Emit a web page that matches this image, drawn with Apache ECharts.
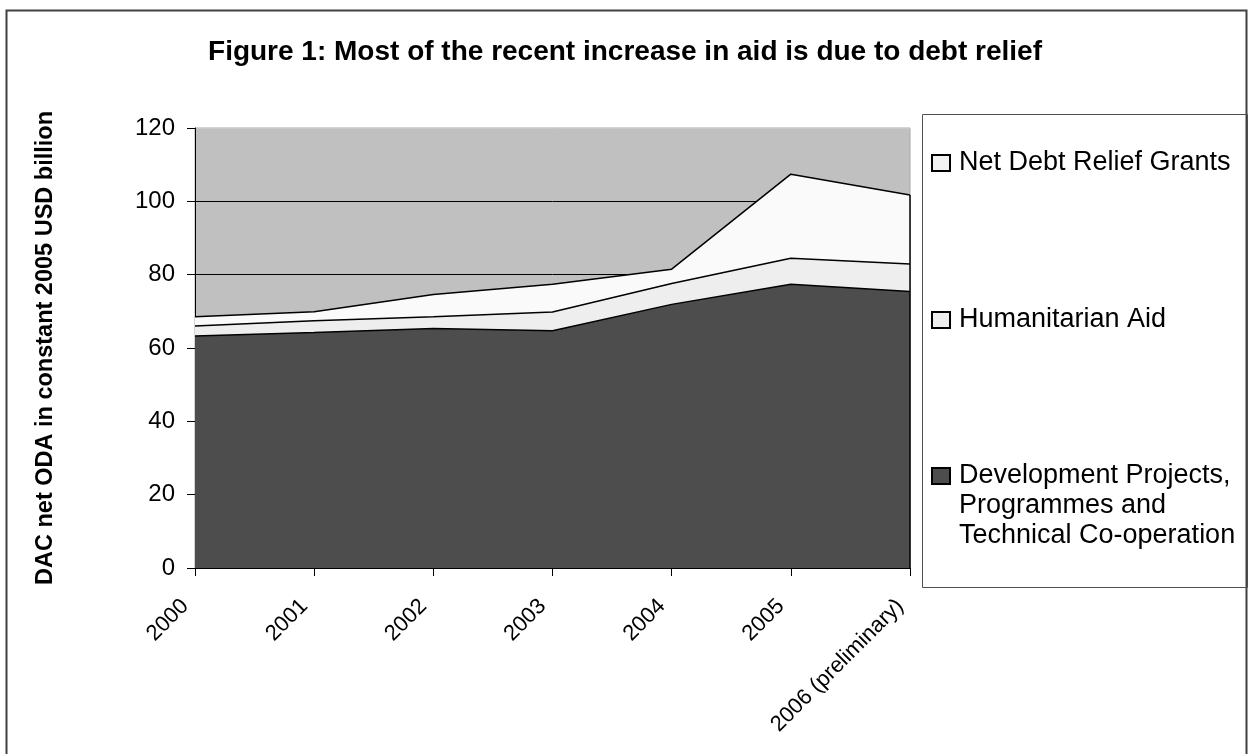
<!DOCTYPE html>
<html>
<head>
<meta charset="utf-8">
<script src="https://cdn.jsdelivr.net/npm/echarts@6/dist/echarts.min.js"></script>
<style>
html,body{margin:0;padding:0;background:#fff;}
#chart{width:1250px;height:754px;}
</style>
</head>
<body>
<div id="chart"></div>
<script>
const categories = ['2000','2001','2002','2003','2004','2005','2006 (preliminary)'];
const devProjects = [63.3, 64.2, 65.3, 64.7, 71.9, 77.4, 75.4];
const humanitarian = [2.7, 3.2, 3.2, 5.1, 5.7, 7.1, 7.5];
const debtRelief = [2.5, 2.5, 6.1, 7.6, 3.9, 22.9, 18.8];
const yTicks = [0, 20, 40, 60, 80, 100, 120];

const FONT = "'Liberation Sans', Arial, sans-serif";
const chart = echarts.init(document.getElementById('chart'));

const lastIdx = categories.length - 1;
const lastTotal = devProjects[lastIdx] + humanitarian[lastIdx] + debtRelief[lastIdx];

const legendText = {color:'#000', fontFamily: FONT, fontSize: 27, lineHeight: 30, padding:[0,0,0,4]};
function legendFor(name, top, fmt){
  return {
    data:[name], left: 931, top: top, orient:'vertical', padding:0,
    itemWidth:18, itemHeight:16, itemGap:0, icon:'rect',
    selectedMode:false,
    textStyle: legendText,
    formatter: fmt
  };
}

chart.setOption({
  backgroundColor:'#fff',
  animation:false,
  title:{
    text:'Figure 1: Most of the recent increase in aid is due to debt relief',
    left: 'center', top: 38, padding:0,
    textStyle:{fontFamily:FONT, fontSize:28, fontWeight:'bold', color:'#000'}
  },
  graphic:[
    {type:'rect', shape:{x:6.5, y:10.5, width:1240, height:760}, style:{fill:'none', stroke:'#404040', lineWidth:2}, silent:true},
    {type:'rect', shape:{x:922.5, y:114.5, width:325, height:473}, style:{fill:'none', stroke:'#505050', lineWidth:1}, silent:true}
  ],
  legend:[
    legendFor('Net Debt Relief Grants', 148, function(n){return n;}),
    legendFor('Humanitarian Aid', 305, function(n){return n;}),
    legendFor('Development Projects, Programmes and Technical Co-operation', 401,
      function(){return '\n\nDevelopment Projects,\nProgrammes and\nTechnical Co-operation';})
  ],
  grid:{
    left:195, right:340, top:128, bottom:186,
    show:true, backgroundColor:'#c0c0c0', borderColor:'#a8a8a8', borderWidth:1
  },
  xAxis:{
    type:'category', data:categories, boundaryGap:false,
    axisLine:{show:true, lineStyle:{color:'#000', width:1}},
    axisTick:{show:true, inside:false, length:8, lineStyle:{color:'#000'}},
    axisLabel:{rotate:45, margin:25, padding:[0,14,0,0], fontFamily:FONT, fontSize:22, color:'#000', interval:0},
    splitLine:{show:false}
  },
  yAxis:{
    type:'value', min:yTicks[0], max:yTicks[yTicks.length-1], interval:20,
    name:'DAC net ODA in constant 2005 USD billion',
    nameLocation:'middle', nameRotate:90, nameGap:137,
    nameTextStyle:{fontFamily:FONT, fontSize:23.5, fontWeight:'bold', color:'#000'},
    axisLine:{show:true, lineStyle:{color:'#000', width:1}},
    axisTick:{show:true, inside:false, length:8, lineStyle:{color:'#000'}},
    axisLabel:{margin:20, fontFamily:FONT, fontSize:24, color:'#000'},
    splitLine:{show:true, lineStyle:{color:['#000','#000','#000','#000','#000','#000','#c8c8c8'], width:1}}
  },
  series:[
    {name:'Development Projects, Programmes and Technical Co-operation', type:'line', stack:'oda',
     data:devProjects, symbol:'none', lineStyle:{color:'#000', width:1.5},
     areaStyle:{color:'#4d4d4d', opacity:1}, itemStyle:{color:'#4d4d4d', borderColor:'#000', borderWidth:1}},
    {name:'Humanitarian Aid', type:'line', stack:'oda',
     data:humanitarian, symbol:'none', lineStyle:{color:'#000', width:1.5},
     areaStyle:{color:'#eeeeee', opacity:1}, itemStyle:{color:'#eeeeee', borderColor:'#000', borderWidth:1}},
    {name:'Net Debt Relief Grants', type:'line', stack:'oda',
     data:debtRelief, symbol:'none', lineStyle:{color:'#000', width:1.5},
     areaStyle:{color:'#fafafa', opacity:1}, itemStyle:{color:'#f2f2f2', borderColor:'#000', borderWidth:1},
     markLine:{
       silent:true, symbol:'none', label:{show:false}, animation:false,
       lineStyle:{color:'#000', width:1.5, type:'solid'},
       data:[[{coord:[categories[lastIdx], 0]}, {coord:[categories[lastIdx], lastTotal]}]]
     }}
  ]
});
</script>
</body>
</html>
